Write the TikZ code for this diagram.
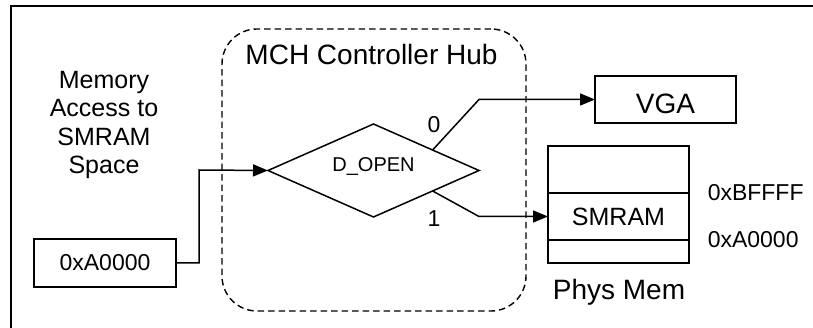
\documentclass[tikz,border=0pt]{standalone}
\usepackage{fontspec}
\setmainfont{Liberation Sans}
\usetikzlibrary{calc,positioning,arrows.meta,shapes.geometric}

\begin{document}
\begin{tikzpicture}[x=1pt,y=-1pt,line width=1.5pt,
  box/.style={draw,rectangle,inner sep=0pt,outer sep=0pt,minimum width=141pt},
  hubbox/.style={draw,rectangle,rounded corners=35pt,dash pattern=on 6.5pt off 4pt,line width=1.4pt,inner sep=0pt},
  decide/.style={draw,diamond,inner sep=0pt,outer sep=0pt,minimum width=211pt,minimum height=93pt},
  arr/.style={-{Triangle[length=15pt,width=12pt]}},
  bigtxt/.style={font=\fontsize{28}{32}\selectfont},
  midtxt/.style={font=\fontsize{25}{28.5}\selectfont},
  hextxt/.style={font=\fontsize{23}{27}\selectfont},
  smalltxt/.style={font=\fontsize{20}{24}\selectfont}]
  \useasboundingbox (0,0) rectangle (813,328);
  \draw[line width=2.2pt] (11,340) -- (11,6) -- (825,6);

  \node[hubbox,minimum width=304pt,minimum height=282pt] (hub) at (374,170) {};
  \node[bigtxt,anchor=base] (hubname) at (371.5,65) {MCH Controller Hub};

  \node[midtxt,align=center,anchor=north,inner sep=0pt] (access) at (104,70.5) {Memory\\Access to\\SMRAM\\Space};
  \node[box,hextxt,minimum width=142pt,minimum height=48pt] (addr) at (105,263) {0xA0000};

  \node[decide] (dopen) at (373.5,170.5) {};
  \node[smalltxt,anchor=base] (dname) at (373.5,171.5) {D\_OPEN};

  \node[box,bigtxt,minimum height=47pt,text height=29pt] (vga) at (665.5,99.5) {VGA};
  \node[box,midtxt,minimum height=47pt] (smram) at (618.5,216.5) {SMRAM};
  \node[box,minimum height=47pt,above=0pt of smram] (memhi) {};
  \node[box,minimum height=23pt,below=0pt of smram] (memlo) {};
  \node[hextxt,inner sep=0pt,right=18pt of smram.north east] (toplim) {0xBFFFF};
  \node[hextxt,inner sep=0pt,right=18pt of smram.south east] (botlim) {0xA0000};
  \node[bigtxt,anchor=base] (physmem) at (619,300) {Phys Mem};

  \node[hextxt,anchor=base] (bit0) at (434,133) {0};
  \node[hextxt,anchor=base] (bit1) at (434,227) {1};

  \coordinate (jog) at (199,170);
  \draw[arr] (addr.east) -| (jog) -- (dopen.west);
  \draw[arr] ($(dopen.north)!0.56!(dopen.east)$) -- (dopen.east |- vga.west) -- (vga.west);
  \draw[arr] ($(dopen.south)!0.56!(dopen.east)$) -- (dopen.east |- smram.west) -- (smram.west);
\end{tikzpicture}
\end{document}
